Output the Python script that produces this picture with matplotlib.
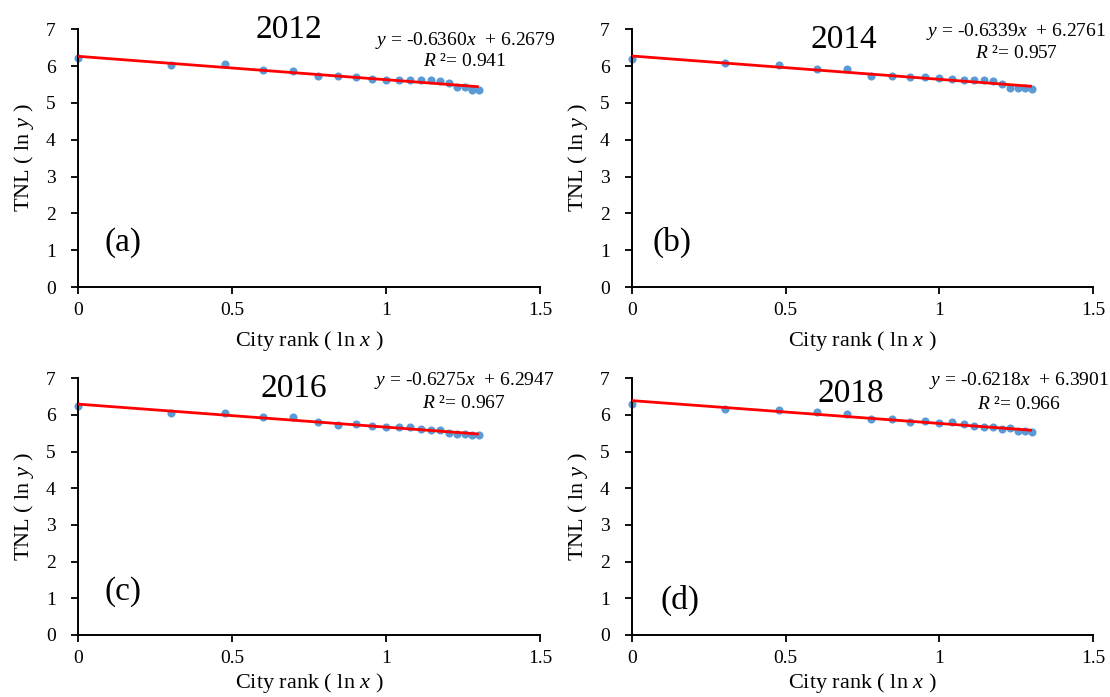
import matplotlib
matplotlib.use("Agg")
import matplotlib.pyplot as plt

plt.rcParams['font.family'] = ['Liberation Serif', 'DejaVu Serif']
plt.rcParams['mathtext.fontset'] = 'custom'
plt.rcParams['mathtext.rm'] = 'Liberation Serif'
plt.rcParams['mathtext.it'] = 'Liberation Serif:italic'

# ln(city rank) for the 20 cities
rank_x = [0.000, 0.301, 0.477, 0.602, 0.699, 0.778, 0.845, 0.903, 0.954, 1.000,
          1.041, 1.079, 1.114, 1.146, 1.176, 1.204, 1.230, 1.255, 1.279, 1.301]

tnl_2012 = [6.22, 6.04, 6.05, 5.90, 5.87, 5.73, 5.74, 5.70, 5.65, 5.63,
            5.63, 5.63, 5.63, 5.63, 5.61, 5.53, 5.43, 5.43, 5.35, 5.35]
tnl_2014 = [6.19, 6.08, 6.03, 5.93, 5.92, 5.73, 5.73, 5.70, 5.71, 5.67,
            5.64, 5.62, 5.62, 5.63, 5.60, 5.52, 5.42, 5.40, 5.40, 5.37]
tnl_2016 = [6.23, 6.05, 6.05, 5.94, 5.95, 5.82, 5.73, 5.74, 5.70, 5.68,
            5.68, 5.66, 5.63, 5.59, 5.59, 5.50, 5.47, 5.48, 5.45, 5.45]
tnl_2018 = [6.29, 6.16, 6.14, 6.08, 6.03, 5.90, 5.88, 5.81, 5.83, 5.79,
            5.80, 5.74, 5.71, 5.68, 5.67, 5.63, 5.64, 5.57, 5.57, 5.53]

years = ["2012", "2014", "2016", "2018"]
panel_tags = ["(a)", "(b)", "(c)", "(d)"]
slopes = [-0.6360, -0.6339, -0.6275, -0.6218]
intercepts = [6.2679, 6.2761, 6.2947, 6.3901]
r2_vals = ["0.941", "0.957", "0.967", "0.966"]
series = [tnl_2012, tnl_2014, tnl_2016, tnl_2018]

# axes boxes in figure fraction
boxes = [[0.0703, 0.5882, 0.4162, 0.3697],
         [0.5694, 0.5882, 0.4153, 0.3697],
         [0.0703, 0.0890, 0.4162, 0.3683],
         [0.5694, 0.0890, 0.4153, 0.3683]]
year_pos = [(0.685, 7.0), (0.69, 6.73), (0.70, 6.72), (0.713, 6.59)]
tag_pos = [(0.145, 1.2), (0.13, 1.2), (0.145, 1.17), (0.155, 0.95)]
eq_pos = [(1.257, 6.69, 6.12), (1.249, 6.94, 6.34),
          (1.253, 6.94, 6.31), (1.259, 6.94, 6.29)]
xlab_pad = [7, 7, 3, 3]

fig = plt.figure(figsize=(11.1, 6.97), dpi=100)

for i in range(4):
    ax = fig.add_axes(boxes[i])
    y = series[i]
    ax.scatter(rank_x, y, s=34, color="#5B9BD5", zorder=2, linewidths=0,
               clip_on=False)
    x_fit = [rank_x[0], rank_x[-1]]
    y_fit = [slopes[i] * xx + intercepts[i] for xx in x_fit]
    ax.plot(x_fit, y_fit, color="#FF0000", lw=2.0, zorder=3,
            solid_capstyle="butt")

    ax.set_xlim(0, 1.5)
    ax.set_ylim(0, 7)
    ax.set_xticks([0, 0.5, 1, 1.5])
    ax.set_xticklabels(["0", "0.5", "1", "1.5"])
    ax.set_yticks(range(8))
    ax.tick_params(direction="out", length=5, width=1.3, labelsize=14,
                   pad=6)
    ax.tick_params(axis="y", pad=11)
    for sp in ["top", "right"]:
        ax.spines[sp].set_visible(False)
    for sp in ["left", "bottom"]:
        ax.spines[sp].set_linewidth(1.4)

    ax.set_xlabel("City rank ( ln $x$ )", fontsize=16, labelpad=xlab_pad[i])
    ax.set_ylabel("TNL ( ln $y$ )", fontsize=16, labelpad=7)

    ax.text(year_pos[i][0], year_pos[i][1], years[i], fontsize=24,
            ha="center", va="center")
    ax.text(tag_pos[i][0], tag_pos[i][1], panel_tags[i], fontsize=24,
            ha="center", va="center")
    ex, ey, ry = eq_pos[i]
    ax.text(ex, ey, "$y$ = %.4f$x$  + %.4f" % (slopes[i], intercepts[i]),
            fontsize=14, ha="center", va="center")
    ax.text(ex, ry, "$R$ ²= " + r2_vals[i], fontsize=14,
            ha="center", va="center")

plt.savefig("out.png", dpi=100)
